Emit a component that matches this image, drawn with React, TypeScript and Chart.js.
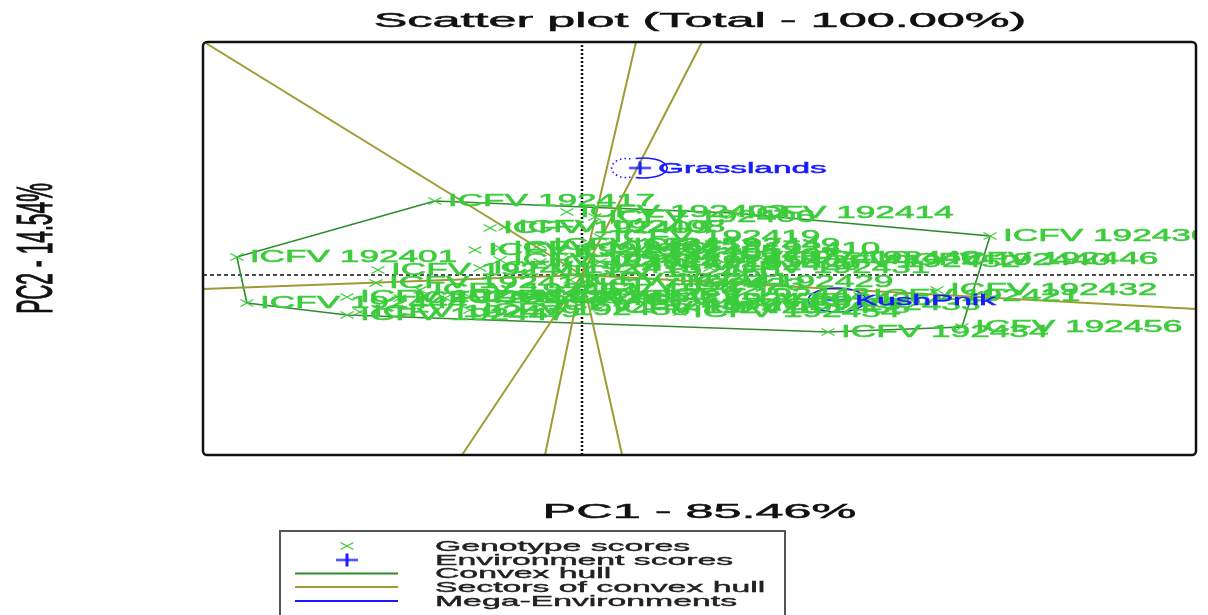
import React, { useEffect, useRef } from 'react';
import { Chart, registerables } from 'chart.js';

Chart.register(...registerables);

// ---------- data ----------
const genotypeNames = [
  'ICFV 192401', 'ICFV 192402', 'ICFV 192403', 'ICFV 192404', 'ICFV 192405', 'ICFV 192406', 'ICFV 192407', 'ICFV 192408',
  'ICFV 192409', 'ICFV 192410', 'ICFV 192411', 'ICFV 192412', 'ICFV 192413', 'ICFV 192414', 'ICFV 192415', 'ICFV 192416',
  'ICFV 192417', 'ICFV 192418', 'ICFV 192419', 'ICFV 192420', 'ICFV 192421', 'ICFV 192422', 'ICFV 192423', 'ICFV 192424',
  'ICFV 192425', 'ICFV 192426', 'ICFV 192427', 'ICFV 192428', 'ICFV 192429', 'ICFV 192430', 'ICFV 192431', 'ICFV 192432',
  'ICFV 192433', 'ICFV 192434', 'ICFV 192435', 'ICFV 192436', 'ICFV 192437', 'ICFV 192438', 'ICFV 192439', 'ICFV 192440',
  'ICFV 192441', 'ICFV 192442', 'ICFV 192443', 'ICFV 192444', 'ICFV 192445', 'ICFV 192446', 'ICFV 192447', 'ICFV 192448',
  'ICFV 192449', 'ICFV 192450', 'ICFV 192451', 'ICFV 192452', 'ICFV 192453', 'ICFV 192454', 'ICFV 192455', 'ICFV 192456',
];
const genotypePC1 = [
  -1.438, -0.446, -0.063, -0.342, -0.092, 0.054, 0.158, -0.321,
  -0.383, 0.325, -0.85, -0.175, 0.075, 0.63, -0.425, 0.45,
  -0.613, -0.858, 0.075, 0.242, 1.158, -0.258, 0.013, -0.571,
  0.075, 0.533, -0.092, -0.758, 0.379, 1.7, 0.533, 1.479,
  0.742, 1.025, 0.45, 0.158, -0.175, -0.467, -0.925, 1.283,
  -0.05, -0.342, 0.283, -1.396, -0.979, 1.483, -0.979, 0.742,
  0.158, -0.092, -0.675, 0.908, -0.175, 0.408, -0.467, 1.583,
];
const genotypePC2 = [
  0.18, 0.25, 0.63, 0.27, 0.23, 0.58, 0.2, 0.48,
  0.47, 0.26, 0.05, 0.13, 0.13, 0.62, 0.07, 0.17,
  0.74, -0.08, 0.38, 0.1, -0.21, -0.22, -0.1, -0.23,
  -0.33, -0.25, -0.15, -0.23, -0.07, 0.39, 0.07, -0.15,
  -0.3, -0.57, -0.33, -0.25, -0.3, -0.35, -0.37, 0.15,
  -0.05, 0.15, -0.2, -0.28, -0.22, 0.16, -0.4, 0.17,
  0.3, 0.03, -0.15, 0.13, 0.3, -0.37, -0.22, -0.52,
];

const environmentNames = ['Grasslands', 'KushPnik'];
const environmentPC1 = [0.242, 1.0625];
const environmentPC2 = [1.07, -0.25];
const megaEnvRadius = [0.1, 0.12];

const hullOrder = [
  'ICFV 192417', 'ICFV 192401', 'ICFV 192444', 'ICFV 192447',
  'ICFV 192434', 'ICFV 192456', 'ICFV 192430', 'ICFV 192414',
];

const sectorEndPC1 = [-1.575, 0.225, 0.5, -1.579, 2.558, -0.5, -0.154, 0.167];
const sectorEndPC2 = [2.33, 2.33, 2.33, -0.14, -0.34, -1.8, -1.8, -1.8];

const rangePC1 = [-1.579, 2.558];
const rangePC2 = [-1.8, 2.33];

const chartTitle = 'Scatter plot (Total - 100.00%)';
const xAxisTitle = 'PC1 - 85.46%';
const yAxisTitle = 'PC2 - 14.54%';
const legendLabels = ['Genotype scores', 'Environment scores', 'Convex hull', 'Sectors of convex hull', 'Mega-Environments'];

// ---------- styles ----------
const STRETCH = 2.4;
const FONT = '"Liberation Sans", Arial, sans-serif';
const GENO_COLOR = '#3ccc3c';
const ENV_COLOR = '#1a1aff';
const HULL_COLOR = '#2e8b2e';
const SECTOR_COLOR = '#a09a34';

function makeCross(color: string) {
  const c = document.createElement('canvas');
  c.width = 16; c.height = 10;
  const g = c.getContext('2d')!;
  g.strokeStyle = color; g.lineWidth = 1.4;
  g.beginPath();
  g.moveTo(1.5, 1.5); g.lineTo(14.5, 8.5);
  g.moveTo(1.5, 8.5); g.lineTo(14.5, 1.5);
  g.stroke();
  return c;
}

function makePlus(color: string) {
  const c = document.createElement('canvas');
  c.width = 24; c.height = 15;
  const g = c.getContext('2d')!;
  g.strokeStyle = color;
  g.lineWidth = 2;
  g.beginPath(); g.moveTo(1, 7.5); g.lineTo(23, 7.5); g.stroke();
  g.lineWidth = 3;
  g.beginPath(); g.moveTo(12, 1); g.lineTo(12, 14); g.stroke();
  return c;
}

function stretchedText(ctx: CanvasRenderingContext2D, text: string, x: number, y: number, align: CanvasTextAlign, baseline: CanvasTextBaseline, weight = 0, stretch = STRETCH) {
  ctx.save();
  ctx.translate(x, y);
  ctx.scale(stretch, 1);
  ctx.textAlign = align;
  ctx.textBaseline = baseline;
  ctx.fillText(text, 0, 0);
  if (weight > 0) {
    ctx.strokeStyle = ctx.fillStyle;
    ctx.lineWidth = weight;
    ctx.strokeText(text, 0, 0);
  }
  ctx.restore();
}

const overlayPlugin = {
  id: 'overlay',
  afterDatasetsDraw(chart: any) {
    const { ctx, chartArea: a } = chart;
    const xs = chart.scales.x;
    const ys = chart.scales.y;
    ctx.save();
    ctx.beginPath();
    ctx.rect(a.left, a.top, a.right - a.left, a.bottom - a.top);
    ctx.clip();

    // mega-environment circles
    environmentNames.forEach((_, i) => {
      const cx = xs.getPixelForValue(environmentPC1[i]);
      const cy = ys.getPixelForValue(environmentPC2[i]);
      const rx = Math.abs(xs.getPixelForValue(megaEnvRadius[i]) - xs.getPixelForValue(0));
      const ry = Math.abs(ys.getPixelForValue(megaEnvRadius[i]) - ys.getPixelForValue(0));
      ctx.strokeStyle = ENV_COLOR;
      ctx.lineWidth = 1.6;
      if (i === 0) {
        ctx.setLineDash([]);
        ctx.beginPath();
        ctx.ellipse(cx + 3, cy, rx, ry, 0, -Math.PI * 0.6, Math.PI * 0.6);
        ctx.stroke();
        ctx.setLineDash([1.5, 3]);
        ctx.beginPath();
        ctx.ellipse(cx - 14, cy, rx * 0.6, ry * 0.95, 0, Math.PI * 0.4, Math.PI * 1.6);
        ctx.stroke();
        ctx.setLineDash([]);
      } else {
        ctx.beginPath();
        ctx.ellipse(cx, cy, rx, ry, 0, 0, Math.PI * 2);
        ctx.stroke();
      }
    });

    // genotype labels
    ctx.font = `16px ${FONT}`;
    ctx.fillStyle = GENO_COLOR;
    genotypeNames.forEach((name, i) => {
      const px = xs.getPixelForValue(genotypePC1[i]);
      const py = ys.getPixelForValue(genotypePC2[i]);
      stretchedText(ctx, name, px + 13, py + 1, 'left', 'middle', 0.5, 2.2);
    });

    // environment labels
    ctx.font = `15.5px ${FONT}`;
    ctx.fillStyle = ENV_COLOR;
    environmentNames.forEach((name, i) => {
      const px = xs.getPixelForValue(environmentPC1[i]);
      const py = ys.getPixelForValue(environmentPC2[i]);
      stretchedText(ctx, name, px + 18, py + 1, 'left', 'middle', 0.5, 2.15);
    });
    ctx.restore();
  },
  afterDraw(chart: any) {
    const { ctx, chartArea: a } = chart;
    ctx.save();
    // plot frame
    ctx.strokeStyle = '#111';
    ctx.lineWidth = 2.5;
    ctx.beginPath();
    ctx.roundRect(a.left, a.top, a.right - a.left, a.bottom - a.top, 4);
    ctx.stroke();

    // titles
    ctx.fillStyle = '#111';
    ctx.font = `21px ${FONT}`;
    stretchedText(ctx, chartTitle, (a.left + a.right) / 2 + 0.5, 27, 'center', 'alphabetic', 0.5);
    stretchedText(ctx, xAxisTitle, (a.left + a.right) / 2, 518, 'center', 'alphabetic', 0.5);
    ctx.save();
    ctx.translate(52, (a.top + a.bottom) / 2);
    ctx.scale(STRETCH, 1);
    ctx.rotate(-Math.PI / 2);
    ctx.textAlign = 'center';
    ctx.textBaseline = 'alphabetic';
    ctx.fillText(yAxisTitle, 0, 0);
    ctx.strokeStyle = '#111';
    ctx.lineWidth = 0.5;
    ctx.strokeText(yAxisTitle, 0, 0);
    ctx.restore();

    // legend box
    ctx.strokeStyle = '#555';
    ctx.lineWidth = 2;
    ctx.beginPath();
    ctx.rect(280, 531, 505, 100);
    ctx.stroke();
    const rowY = [546, 560, 573.5, 587, 601];
    const symX = 347;
    ctx.drawImage(crossLegend, symX - crossLegend.width / 2, rowY[0] - crossLegend.height / 2);
    ctx.drawImage(plusLegend, symX - plusLegend.width / 2, rowY[1] - plusLegend.height / 2);
    const lineColors = [HULL_COLOR, SECTOR_COLOR, ENV_COLOR];
    lineColors.forEach((c, k) => {
      ctx.strokeStyle = c;
      ctx.lineWidth = 2;
      ctx.beginPath();
      ctx.moveTo(295, rowY[k + 2]);
      ctx.lineTo(398, rowY[k + 2]);
      ctx.stroke();
    });
    ctx.fillStyle = '#222';
    ctx.font = `15px ${FONT}`;
    legendLabels.forEach((t, k) => {
      stretchedText(ctx, t, 435, rowY[k] + 0.5, 'left', 'middle', 0.4, 2.25);
    });
    ctx.restore();
  },
};

let crossLegend: HTMLCanvasElement;
let plusLegend: HTMLCanvasElement;

export default function App() {
  const ref = useRef<HTMLCanvasElement | null>(null);

  useEffect(() => {
    if (!ref.current) return;
    const crossImg = makeCross(GENO_COLOR);
    const plusImg = makePlus(ENV_COLOR);
    crossLegend = crossImg;
    plusLegend = plusImg;

    const genoData = genotypeNames.map((_, i) => ({ x: genotypePC1[i], y: genotypePC2[i] }));
    const envData = environmentNames.map((_, i) => ({ x: environmentPC1[i], y: environmentPC2[i] }));
    const hullPts = hullOrder.map((n) => {
      const i = genotypeNames.indexOf(n);
      return { x: genotypePC1[i], y: genotypePC2[i] };
    });
    hullPts.push(hullPts[0]);

    const sectorSets = sectorEndPC1.map((ex, k) => ({
      label: 'sector' + k,
      data: [{ x: 0, y: 0 }, { x: ex, y: sectorEndPC2[k] }],
      showLine: true,
      borderColor: SECTOR_COLOR,
      borderWidth: 2,
      pointRadius: 0,
      order: 2,
    }));

    const chart = new Chart(ref.current, {
      type: 'scatter',
      data: {
        datasets: [
          {
            label: 'Genotype scores',
            data: genoData,
            pointStyle: crossImg as any,
            pointRadius: 5,
            order: 0,
          },
          {
            label: 'Environment scores',
            data: envData,
            pointStyle: plusImg as any,
            pointRadius: 5,
            order: 1,
          },
          ...sectorSets,
          {
            label: 'Convex hull',
            data: hullPts,
            showLine: true,
            borderColor: HULL_COLOR,
            borderWidth: 1.6,
            pointRadius: 0,
            order: 3,
          },
          {
            label: 'vref',
            data: [{ x: 0, y: rangePC2[0] }, { x: 0, y: rangePC2[1] }],
            showLine: true,
            borderColor: '#111',
            borderWidth: 2.5,
            borderDash: [2, 2],
            pointRadius: 0,
            order: 4,
          },
          {
            label: 'href',
            data: [{ x: rangePC1[0], y: 0 }, { x: rangePC1[1], y: 0 }],
            showLine: true,
            borderColor: '#111',
            borderWidth: 1.4,
            borderDash: [4, 3],
            pointRadius: 0,
            order: 4,
          },
        ] as any,
      },
      options: {
        animation: false,
        responsive: false,
        events: [],
        layout: { padding: { left: 203, right: 12, top: 42, bottom: 160 } },
        scales: {
          x: { type: 'linear', min: rangePC1[0], max: rangePC1[1], display: false },
          y: { type: 'linear', min: rangePC2[0], max: rangePC2[1], display: false },
        },
        plugins: {
          legend: { display: false },
          title: { display: false },
          tooltip: { enabled: false },
        },
      },
      plugins: [overlayPlugin],
    });
    return () => chart.destroy();
  }, []);

  return (
    <div style={{ position: 'absolute', left: 0, top: 0, width: 1208, height: 615, background: '#fff' }}>
      <canvas ref={ref} width={1208} height={615} style={{ display: 'block' }} />
    </div>
  );
}
